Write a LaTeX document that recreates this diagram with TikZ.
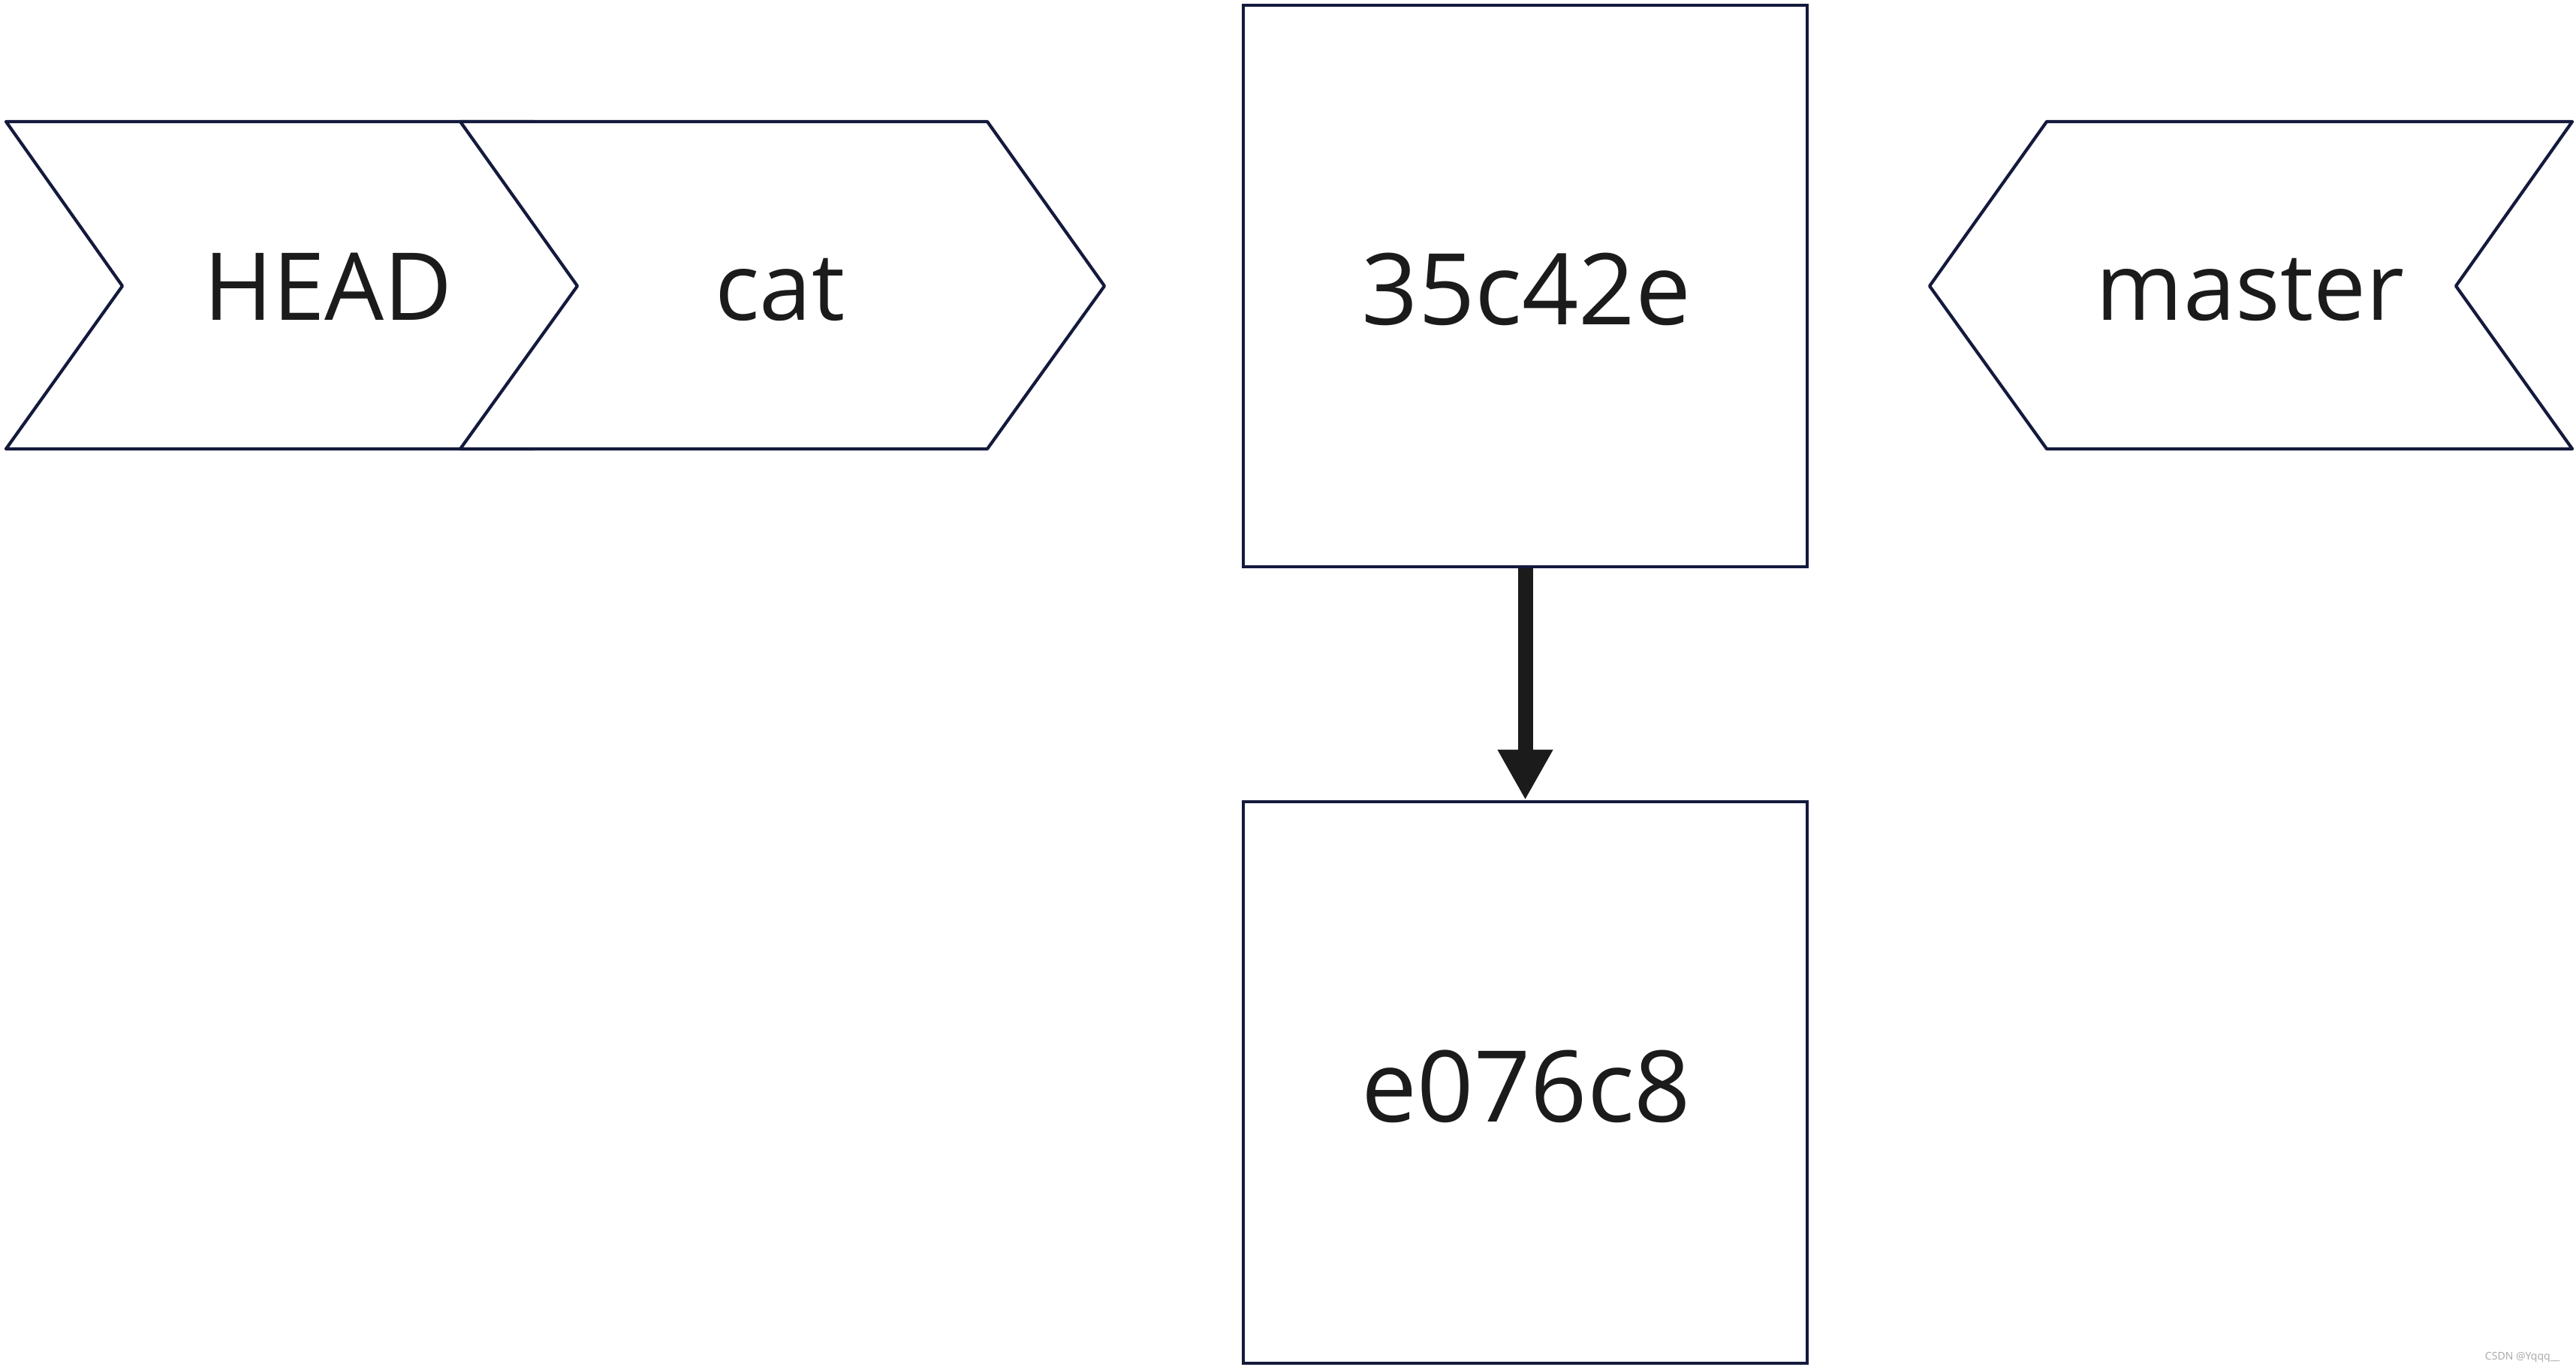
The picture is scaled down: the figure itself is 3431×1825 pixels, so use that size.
\documentclass[tikz,border=0pt]{standalone}
\usepackage{fontspec}
\setmainfont{Open Sans}
\usetikzlibrary{arrows.meta}
\definecolor{edge}{HTML}{141A3C}
\definecolor{ink}{HTML}{1B1B1B}
\begin{document}
\begin{tikzpicture}[x=0.01cm,y=-0.01cm,
  shapeline/.style={draw=edge,line width=1.2pt,line join=round,fill=white},
  lbl/.style={text=ink,font=\fontsize{35.5}{40}\selectfont,anchor=base,inner sep=0pt},
  hash/.style={text=ink,font=\fontsize{37.5}{44}\selectfont,anchor=base,inner sep=0pt},
  commit/.style={draw=edge,line width=1.2pt,fill=white,minimum width=7.51cm,minimum height=7.48cm,inner sep=0pt},
  link/.style={draw=ink,line width=0.2cm,-{Triangle[width=0.69cm,length=0.67cm]},ink}]
\useasboundingbox (0,0) rectangle (3431,1825);
% HEAD chevron
\path[shapeline] (8,162) -- (711,162) -- (867,381) -- (711,598) -- (8,598) -- (163,381) -- cycle;
% cat chevron
\path[shapeline] (613,162) -- (1315,162) -- (1471,381) -- (1315,598) -- (613,598) -- (769,381) -- cycle;
% master chevron (pointing left)
\path[shapeline] (2726,162) -- (3426,162) -- (3271,381) -- (3426,598) -- (2726,598) -- (2570,381) -- cycle;
\node[lbl] (head) at (437,427) {HEAD};
\node[lbl] (cat) at (1039,427) {cat};
\node[lbl] (master) at (2997,427) {master};
% commits
\node[commit] (c1) at (2031.5,381) {};
\node[commit] (c2) at (2031.5,1442) {};
\node[hash] (h1) at (2033,433) {35c42e};
\node[hash] (h2) at (2033,1494) {e076c8};
\draw[link] (c1.south) -- (c2.north);
% watermark
\node[text=gray!70,font=\fontsize{4}{5}\selectfont,anchor=east,inner sep=0pt] (wm) at (3410,1808) {CSDN @Yqqq\_\_};
\end{tikzpicture}
\end{document}
